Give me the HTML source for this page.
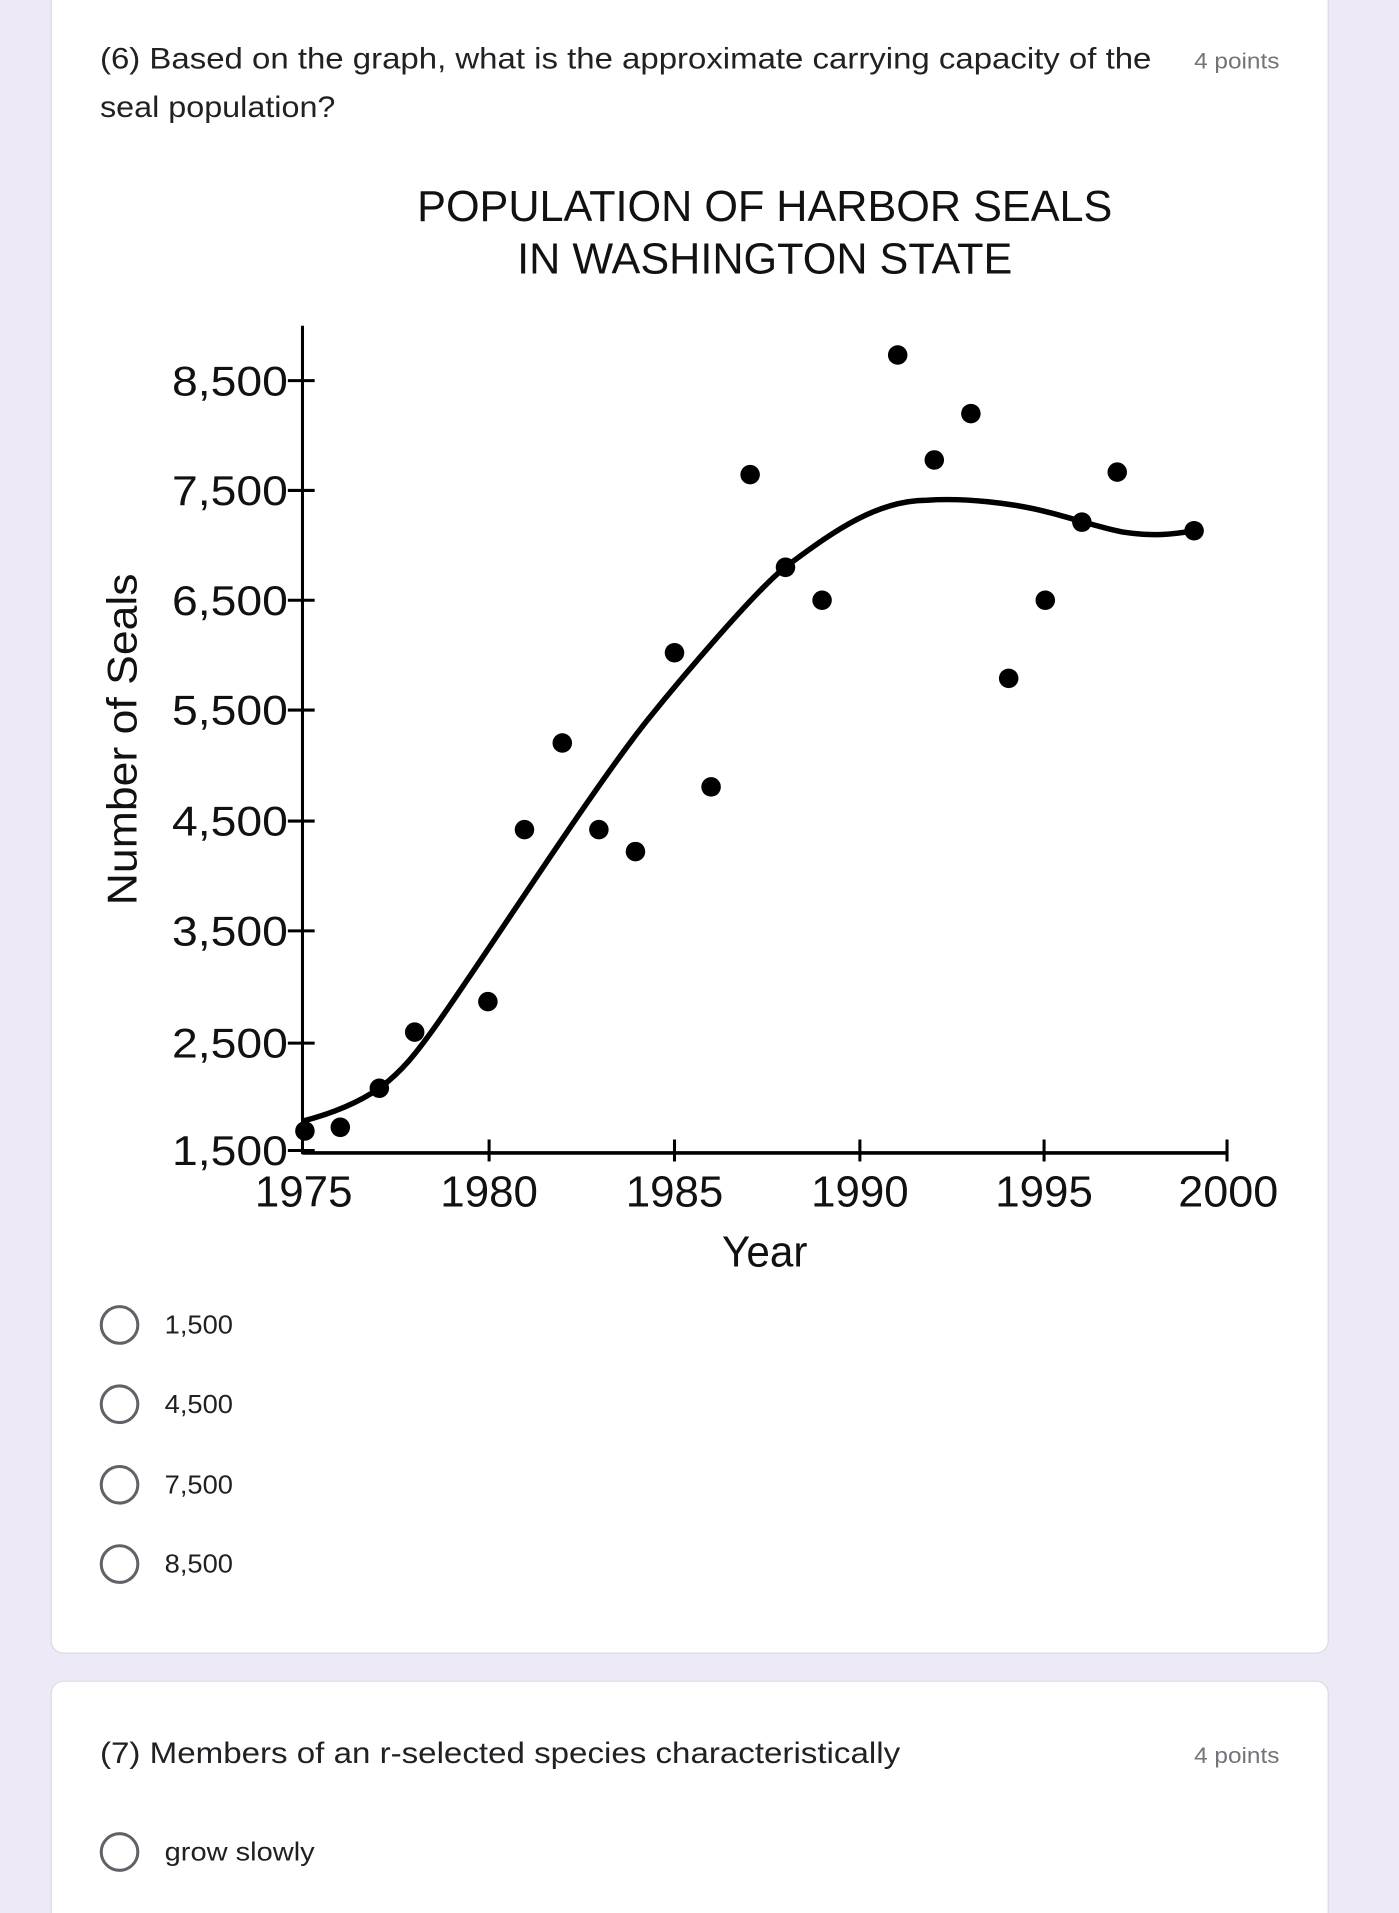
<!DOCTYPE html>
<html><head><meta charset="utf-8"><style>
html,body{margin:0;padding:0;background:#ede9f6;}
svg{display:block;}
</style></head><body>
<svg width="1399" height="1913" viewBox="0 0 1147 1568" preserveAspectRatio="none" xmlns="http://www.w3.org/2000/svg">
<rect x="0" y="0" width="1147" height="1568" fill="#ede9f6"/>
<rect x="42" y="-20" width="1047" height="1375" rx="10" fill="#fff" stroke="#dadce0" stroke-width="1"/>
<rect x="42" y="1378" width="1047" height="220" rx="10" fill="#fff" stroke="#dadce0" stroke-width="1"/>
<g font-family="Liberation Sans, sans-serif" fill="#202124">
<text x="82" y="56" font-size="24" textLength="862" lengthAdjust="spacingAndGlyphs">(6) Based on the graph, what is the approximate carrying capacity of the</text>
<text x="82" y="96" font-size="24" textLength="193" lengthAdjust="spacingAndGlyphs">seal population?</text>
<text x="979" y="56" font-size="18" fill="#70757a" textLength="70" lengthAdjust="spacingAndGlyphs">4 points</text>
<text x="82" y="1445" font-size="24" textLength="656" lengthAdjust="spacingAndGlyphs">(7) Members of an r-selected species characteristically</text>
<text x="979" y="1445" font-size="18" fill="#70757a" textLength="70" lengthAdjust="spacingAndGlyphs">4 points</text>
<g fill="none" stroke="#5f6368" stroke-width="2.5">
<circle cx="98" cy="1086" r="15"/><circle cx="98" cy="1151" r="15"/><circle cx="98" cy="1217" r="15"/><circle cx="98" cy="1282" r="15"/><circle cx="98" cy="1518" r="15"/>
</g>
<g font-size="21">
<text x="135" y="1093" textLength="56" lengthAdjust="spacingAndGlyphs">1,500</text>
<text x="135" y="1158" textLength="56" lengthAdjust="spacingAndGlyphs">4,500</text>
<text x="135" y="1224" textLength="56" lengthAdjust="spacingAndGlyphs">7,500</text>
<text x="135" y="1289" textLength="56" lengthAdjust="spacingAndGlyphs">8,500</text>
<text x="135" y="1525" textLength="123" lengthAdjust="spacingAndGlyphs">grow slowly</text>
</g>
</g>
<g font-family="Liberation Sans, sans-serif" fill="#111">
<text x="342" y="181" font-size="36" textLength="570" lengthAdjust="spacingAndGlyphs">POPULATION OF HARBOR SEALS</text>
<text x="424" y="224" font-size="36" textLength="406" lengthAdjust="spacingAndGlyphs">IN WASHINGTON STATE</text>
<g font-size="34" text-anchor="end">
<text x="236" y="324" textLength="95" lengthAdjust="spacingAndGlyphs">8,500</text>
<text x="236" y="414" textLength="95" lengthAdjust="spacingAndGlyphs">7,500</text>
<text x="236" y="504" textLength="95" lengthAdjust="spacingAndGlyphs">6,500</text>
<text x="236" y="594" textLength="95" lengthAdjust="spacingAndGlyphs">5,500</text>
<text x="236" y="685" textLength="95" lengthAdjust="spacingAndGlyphs">4,500</text>
<text x="236" y="775" textLength="95" lengthAdjust="spacingAndGlyphs">3,500</text>
<text x="236" y="867" textLength="95" lengthAdjust="spacingAndGlyphs">2,500</text>
<text x="236" y="955" textLength="95" lengthAdjust="spacingAndGlyphs">1,500</text>
</g>
<g font-size="36" text-anchor="middle">
<text x="249" y="989" textLength="80" lengthAdjust="spacingAndGlyphs">1975</text>
<text x="401" y="989" textLength="80" lengthAdjust="spacingAndGlyphs">1980</text>
<text x="553" y="989" textLength="80" lengthAdjust="spacingAndGlyphs">1985</text>
<text x="705" y="989" textLength="80" lengthAdjust="spacingAndGlyphs">1990</text>
<text x="856" y="989" textLength="80" lengthAdjust="spacingAndGlyphs">1995</text>
<text x="1007" y="989" textLength="82" lengthAdjust="spacingAndGlyphs">2000</text>
<text x="627" y="1038" textLength="70" lengthAdjust="spacingAndGlyphs">Year</text>
<text transform="translate(112,606) rotate(-90)" x="0" y="0" font-size="34" textLength="272" lengthAdjust="spacingAndGlyphs">Number of Seals</text>
</g>
</g>
<g stroke="#000" stroke-width="2.5" fill="none" stroke-linejoin="round">
<line x1="248" y1="267" x2="248" y2="946"/>
<line x1="248" y1="945" x2="1007" y2="945" stroke-width="3"/>
<line x1="236" y1="312" x2="258" y2="312"/>
<line x1="236" y1="402" x2="258" y2="402"/>
<line x1="236" y1="492" x2="258" y2="492"/>
<line x1="236" y1="582" x2="258" y2="582"/>
<line x1="236" y1="673" x2="258" y2="673"/>
<line x1="236" y1="763" x2="258" y2="763"/>
<line x1="236" y1="855" x2="258" y2="855"/>
<line x1="236" y1="943" x2="258" y2="943"/>
<line x1="401" y1="934" x2="401" y2="952"/>
<line x1="553" y1="934" x2="553" y2="952"/>
<line x1="705" y1="934" x2="705" y2="952"/>
<line x1="856" y1="934" x2="856" y2="952"/>
<line x1="1006" y1="934" x2="1006" y2="952"/>
<path d="M248,919 C275,912 295,903 311,892 C330,878 342,862 355,844 C395,788 486,646 531,590 C556,559 620,483 645,464 C685,434 720,410 760,410 C790,408 830,412 860,420 C880,425 900,432 920,436 C945,440 962,438 979,435" stroke-width="4.5"/>
</g>
<g fill="#000">
<circle cx="250" cy="927" r="8"/><circle cx="279" cy="924" r="8"/><circle cx="311" cy="892" r="8"/><circle cx="340" cy="846" r="8"/><circle cx="400" cy="821" r="8"/><circle cx="430" cy="680" r="8"/><circle cx="461" cy="609" r="8"/><circle cx="491" cy="680" r="8"/><circle cx="521" cy="698" r="8"/><circle cx="553" cy="535" r="8"/><circle cx="583" cy="645" r="8"/><circle cx="615" cy="389" r="8"/><circle cx="644" cy="465" r="8"/><circle cx="674" cy="492" r="8"/><circle cx="736" cy="291" r="8"/><circle cx="766" cy="377" r="8"/><circle cx="796" cy="339" r="8"/><circle cx="827" cy="556" r="8"/><circle cx="857" cy="492" r="8"/><circle cx="887" cy="428" r="8"/><circle cx="916" cy="387" r="8"/><circle cx="979" cy="435" r="8"/>
</g>
</svg>
</body></html>
